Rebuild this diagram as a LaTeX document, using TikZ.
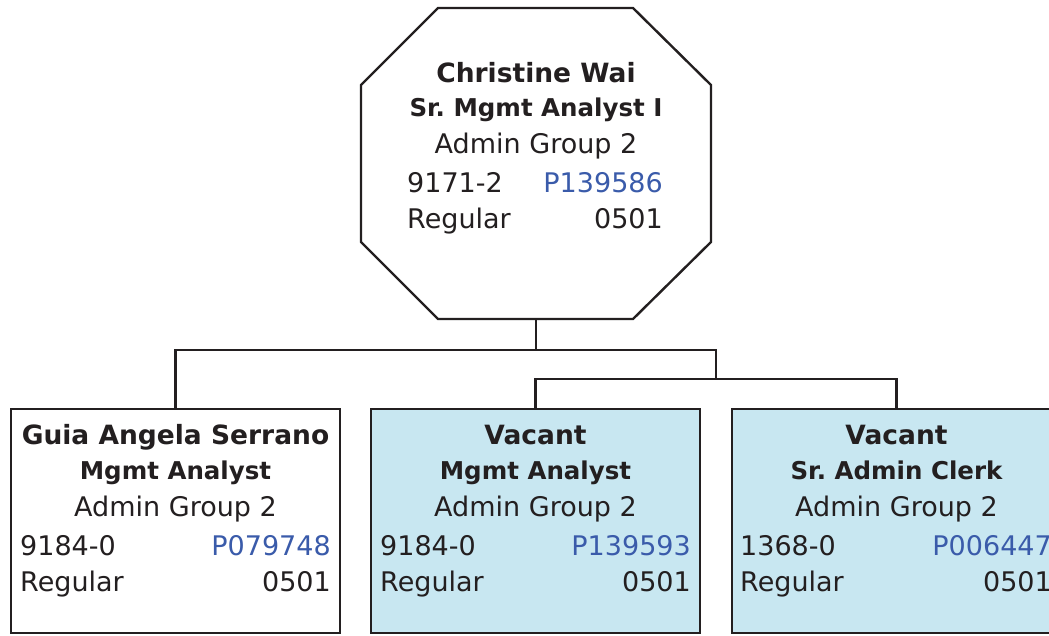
\documentclass[tikz,border=0pt]{standalone}
\usepackage{fontspec}
\setmainfont{DejaVu Sans}
\definecolor{ink}{HTML}{231F20}
\definecolor{poslink}{HTML}{3A5BAA}
\definecolor{vacantfill}{HTML}{C8E7F1}
\tikzset{
  edge/.style={draw=ink, line width=2.4pt},
  card/.style={draw=ink, line width=2.4pt, rectangle, minimum width=329pt, minimum height=224pt, inner sep=0pt},
  vacant/.style={card, fill=vacantfill},
  nametxt/.style={anchor=base, text=ink, font=\fontsize{26.5}{30}\selectfont\bfseries, inner sep=0pt},
  titletxt/.style={anchor=base, text=ink, font=\fontsize{24.5}{28}\selectfont\bfseries, inner sep=0pt},
  plaintxt/.style={text=ink, font=\fontsize{27}{30}\selectfont, inner sep=0pt},
  posid/.style={plaintxt, text=poslink},
}
\begin{document}
\begin{tikzpicture}[x=1pt, y=-1pt]
\useasboundingbox (0,0) rectangle (1049,635);

% head position: octagonal outline
\draw[edge, fill=white] (438,8) -- (633,8) -- (711,85) -- (711,242) -- (633,319)
  -- (438,319) -- (361,242) -- (361,85) -- cycle;
\coordinate (head) at (536,319);
\node[nametxt]  (h1) at (536,82)  {Christine Wai};
\node[titletxt] (h2) at (536,116) {Sr.\ Mgmt Analyst I};
\node[plaintxt, anchor=base] (h3) at (536,153) {Admin Group 2};
\node[plaintxt, anchor=base west] (h4) at (407,192) {9171-2};
\node[posid, anchor=base east] (h5) at (663,192) {P139586};
\node[plaintxt, anchor=base west] (h6) at (407,228) {Regular};
\node[plaintxt, anchor=base east] (h7) at (663,228) {0501};

% subordinate positions
\node[card, fill=white] (b1) at (175.5,521) {};
\node[vacant] (b2) at (535.5,521) {};
\node[vacant] (b3) at (896.5,521) {};

% reporting lines
\coordinate (bus1) at (536,350);
\coordinate (hub) at (716,350);
\coordinate (bus2) at (716,379);
\draw[edge] (head) -- (bus1);
\draw[edge] (bus1) -| (b1.north);
\draw[edge] (bus1) -- (hub) -- (bus2);
\draw[edge] (bus2) -| (b2.north);
\draw[edge] (bus2) -| (b3.north);

% card texts
\node[nametxt]  (a1) at (b1.north |- 0,444) {Guia Angela Serrano};
\node[titletxt] (a2) at (b1.north |- 0,479) {Mgmt Analyst};
\node[plaintxt, anchor=base] (a3) at (b1.north |- 0,516) {Admin Group 2};
\node[plaintxt, anchor=base west] (a4) at (20,555) {9184-0};
\node[posid, anchor=base east] (a5) at (331,555) {P079748};
\node[plaintxt, anchor=base west] (a6) at (20,591) {Regular};
\node[plaintxt, anchor=base east] (a7) at (331,591) {0501};

\node[nametxt]  (c1) at (b2.north |- 0,444) {Vacant};
\node[titletxt] (c2) at (b2.north |- 0,479) {Mgmt Analyst};
\node[plaintxt, anchor=base] (c3) at (b2.north |- 0,516) {Admin Group 2};
\node[plaintxt, anchor=base west] (c4) at (380,555) {9184-0};
\node[posid, anchor=base east] (c5) at (691,555) {P139593};
\node[plaintxt, anchor=base west] (c6) at (380,591) {Regular};
\node[plaintxt, anchor=base east] (c7) at (691,591) {0501};

\node[nametxt]  (d1) at (b3.north |- 0,444) {Vacant};
\node[titletxt] (d2) at (b3.north |- 0,479) {Sr.\ Admin Clerk};
\node[plaintxt, anchor=base] (d3) at (b3.north |- 0,516) {Admin Group 2};
\node[plaintxt, anchor=base west] (d4) at (740,555) {1368-0};
\node[posid, anchor=base east] (d5) at (1052,555) {P006447};
\node[plaintxt, anchor=base west] (d6) at (740,591) {Regular};
\node[plaintxt, anchor=base east] (d7) at (1052,591) {0501};
\end{tikzpicture}
\end{document}
